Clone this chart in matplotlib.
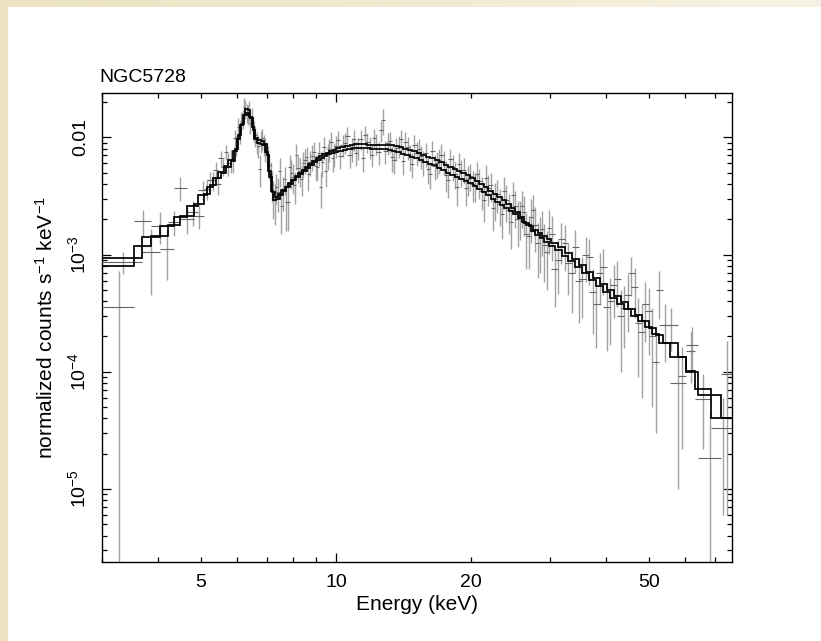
import numpy as np
import matplotlib
matplotlib.use("Agg")
import matplotlib.pyplot as plt
from matplotlib.patches import Rectangle
from matplotlib.colors import LinearSegmentedColormap
from matplotlib.ticker import FixedLocator, FixedFormatter, NullFormatter


plt.rcParams["font.family"] = "Liberation Sans"
plt.rcParams["mathtext.fontset"] = "custom"
plt.rcParams["mathtext.rm"] = "Liberation Sans"
plt.rcParams["mathtext.it"] = "Liberation Sans:italic"
plt.rcParams["mathtext.bf"] = "Liberation Sans:bold"

# FPMA: bin edges (keV), data / error / model in units of 1e-3 counts s^-1 keV^-1
edges_a = [
    3.00, 3.69, 4.04, 4.35, 4.64, 4.93, 5.16, 5.32, 5.46, 5.61,
    5.75, 5.88, 6.00, 6.10, 6.20, 6.28, 6.36, 6.44, 6.52, 6.60,
    6.70, 6.80, 6.90, 7.00, 7.10, 7.20, 7.30, 7.42, 7.55, 7.68,
    7.81, 7.95, 8.09, 8.23, 8.38, 8.53, 8.68, 8.84, 9.00, 9.16,
    9.32, 9.49, 9.66, 9.83, 10.0, 10.23, 10.47, 10.72, 10.96, 11.22,
    11.48, 11.75, 12.02, 12.30, 12.59, 12.88, 13.18, 13.49, 13.80, 14.13,
    14.45, 14.79, 15.14, 15.49, 15.85, 16.22, 16.60, 16.98, 17.38, 17.78,
    18.20, 18.62, 19.05, 19.50, 19.95, 20.42, 20.89, 21.38, 21.88, 22.39,
    22.91, 23.44, 23.99, 24.55, 25.12, 25.70, 26.30, 26.92, 27.54, 28.18,
    28.84, 29.51, 30.20, 31.3, 32.4, 33.6, 34.8, 36.1, 37.4, 38.8,
    40.2, 41.7, 43.2, 44.8, 46.4, 48.1, 49.9, 51.7, 53.7, 58.0,
    60.5, 63.2, 68.8, 77.0,
]
flux_a = [
    0.87, 1.05, 1.11, 3.70, 2.30, 3.55, 4.30, 5.30, 6.60, 7.50,
    6.40, 9.80, 12.3, 13.9, 18.3, 16.3, 17.0, 15.0, 11.5, 9.10,
    5.40, 9.80, 8.00, 6.80, 4.90, 3.10, 3.80, 5.20, 3.45, 2.80,
    5.60, 4.60, 7.00, 5.20, 6.00, 6.80, 6.20, 7.50, 5.60, 3.80,
    8.20, 7.00, 9.20, 7.30, 9.50, 8.60, 10.2, 8.00, 7.40, 9.70,
    10.5, 8.30, 9.80, 7.50, 14.0, 9.00, 6.80, 8.10, 9.60, 9.20,
    6.90, 8.60, 7.90, 6.20, 5.40, 7.60, 6.00, 7.00, 4.80, 6.50,
    4.90, 5.90, 5.30, 4.40, 4.00, 4.90, 3.50, 4.50, 3.90, 3.00,
    2.70, 3.50, 2.40, 3.20, 2.00, 2.60, 1.50, 2.10, 1.80, 1.40,
    1.20, 1.70, 0.76, 1.35, 0.85, 1.15, 0.62, 0.95, 0.38, 0.78,
    0.40, 0.62, 0.35, 0.70, 0.26, 0.38, 0.20, 0.50, 0.25, 0.092,
    0.15, 0.059, 0.033,
]
err_a = [
    0.19, 0.60, 0.50, 0.85, 0.55, 0.65, 0.80, 0.90, 1.00, 1.10,
    1.40, 1.80, 2.20, 2.60, 3.30, 3.10, 3.20, 2.80, 2.30, 1.90,
    1.60, 2.00, 1.80, 1.60, 1.30, 1.10, 1.10, 1.40, 1.10, 1.20,
    1.40, 1.30, 1.70, 1.40, 1.50, 1.50, 1.50, 1.70, 1.40, 1.30,
    1.80, 1.70, 1.90, 1.70, 1.90, 1.80, 2.10, 1.80, 1.70, 1.90,
    2.10, 1.80, 1.90, 1.70, 3.50, 1.90, 1.70, 1.80, 1.90, 1.90,
    1.70, 1.80, 1.70, 1.50, 1.40, 1.70, 1.50, 1.70, 1.40, 1.50,
    1.25, 1.40, 1.30, 1.25, 1.20, 1.30, 1.10, 1.25, 1.10, 1.05,
    0.95, 1.05, 0.90, 0.95, 0.85, 0.90, 0.75, 0.85, 0.75, 0.70,
    0.62, 0.68, 0.40, 0.52, 0.40, 0.46, 0.33, 0.40, 0.22, 0.33,
    0.23, 0.26, 0.19, 0.26, 0.17, 0.20, 0.15, 0.22, 0.10, 0.07,
    0.07, 0.037, 0.027,
]
model_a = [
    0.93, 1.42, 1.75, 2.10, 2.60, 3.25, 3.80, 4.50, 5.10, 5.70,
    6.40, 7.60, 9.60, 12.8, 15.5, 17.4, 17.0, 14.5, 11.5, 9.80,
    9.40, 9.30, 8.80, 7.00, 4.60, 3.40, 3.10, 3.30, 3.55, 3.80,
    4.05, 4.35, 4.65, 4.95, 5.25, 5.60, 5.95, 6.30, 6.60, 6.90,
    7.15, 7.40, 7.65, 7.85, 8.10, 8.30, 8.50, 8.65, 8.75, 8.80,
    8.75, 8.65, 8.60, 8.60, 8.65, 8.65, 8.55, 8.40, 8.20, 8.00,
    7.80, 7.60, 7.35, 7.10, 6.85, 6.60, 6.35, 6.10, 5.85, 5.60,
    5.35, 5.15, 4.95, 4.75, 4.50, 4.25, 4.00, 3.75, 3.50, 3.30,
    3.10, 2.90, 2.70, 2.50, 2.30, 2.10, 1.85, 1.75, 1.62, 1.52,
    1.43, 1.35, 1.26, 1.15, 1.03, 0.92, 0.81, 0.71, 0.63, 0.56,
    0.495, 0.44, 0.39, 0.345, 0.305, 0.27, 0.235, 0.205, 0.175, 0.134,
    0.102, 0.071, 0.040,
]

# FPMB
edges_b = [
    3.00, 3.55, 3.87, 4.21, 4.49, 4.81, 5.08, 5.24, 5.39, 5.53,
    5.68, 5.82, 5.94, 6.05, 6.15, 6.24, 6.32, 6.40, 6.48, 6.56,
    6.65, 6.75, 6.85, 6.95, 7.05, 7.15, 7.25, 7.36, 7.48, 7.61,
    7.74, 7.88, 8.02, 8.16, 8.30, 8.45, 8.60, 8.76, 8.92, 9.08,
    9.24, 9.40, 9.57, 9.74, 9.91, 10.10, 10.35, 10.60, 10.84, 11.09,
    11.35, 11.61, 11.88, 12.16, 12.44, 12.73, 13.03, 13.33, 13.64, 13.96,
    14.29, 14.62, 14.96, 15.31, 15.67, 16.03, 16.41, 16.79, 17.18, 17.58,
    17.99, 18.41, 18.84, 19.27, 19.72, 20.18, 20.65, 21.13, 21.63, 22.13,
    22.65, 23.17, 23.71, 24.27, 24.83, 25.41, 26.00, 26.61, 27.23, 27.86,
    28.51, 29.17, 29.85, 30.8, 31.9, 33.0, 34.2, 35.4, 36.7, 38.1,
    39.5, 40.9, 42.4, 44.0, 45.6, 47.2, 49.0, 50.8, 52.7, 55.5,
    60.5, 64.3, 72.4, 77.0,
]
flux_b = [
    0.36, 1.93, 1.76, 1.90, 2.00, 2.15, 3.60, 4.30, 4.00, 5.60,
    6.00, 6.40, 8.60, 10.8, 14.5, 17.6, 15.8, 13.2, 12.6, 10.4,
    8.40, 9.40, 8.70, 7.30, 5.80, 4.00, 2.90, 3.40, 2.60, 4.40,
    2.80, 5.00, 3.90, 5.50, 4.40, 6.40, 4.90, 6.90, 5.70, 7.40,
    6.10, 5.20, 7.90, 6.60, 8.50, 6.90, 9.00, 7.00, 9.60, 8.10,
    6.60, 9.10, 7.10, 8.80, 11.5, 7.60, 9.30, 6.40, 8.40, 6.30,
    8.20, 5.90, 7.40, 6.90, 7.30, 4.90, 5.70, 6.40, 6.20, 4.30,
    5.60, 3.80, 5.10, 3.70, 4.70, 3.90, 4.20, 2.90, 3.70, 2.50,
    3.30, 2.20, 2.90, 1.90, 2.60, 2.10, 2.30, 1.45, 2.40, 1.25,
    1.65, 1.05, 1.50, 0.90, 1.25, 0.70, 0.60, 1.00, 0.48, 0.70,
    0.36, 0.55, 0.30, 0.45, 0.53, 0.22, 0.33, 0.12, 0.25, 0.080,
    0.17, 0.0183, 0.095,
]
err_b = [
    0.359, 0.49, 0.53, 0.45, 0.50, 0.50, 0.70, 0.80, 0.80, 0.90,
    1.30, 1.40, 1.70, 2.10, 2.70, 3.20, 3.00, 2.60, 2.50, 2.10,
    1.80, 2.00, 1.80, 1.70, 1.40, 1.20, 1.10, 1.10, 1.10, 1.20,
    1.20, 1.40, 1.20, 1.40, 1.25, 1.50, 1.40, 1.70, 1.40, 1.70,
    1.50, 1.40, 1.80, 1.50, 1.80, 1.50, 1.80, 1.50, 1.90, 1.70,
    1.50, 1.80, 1.50, 1.80, 2.30, 1.70, 1.90, 1.50, 1.80, 1.50,
    1.80, 1.40, 1.70, 1.50, 1.70, 1.30, 1.40, 1.50, 1.45, 1.25,
    1.40, 1.20, 1.30, 1.10, 1.25, 1.10, 1.20, 1.00, 1.10, 0.90,
    1.05, 0.85, 1.00, 0.78, 0.90, 0.78, 0.85, 0.70, 0.85, 0.62,
    0.68, 0.55, 0.62, 0.44, 0.52, 0.38, 0.34, 0.42, 0.27, 0.33,
    0.21, 0.26, 0.20, 0.23, 0.24, 0.16, 0.19, 0.09, 0.13, 0.07,
    0.07, 0.025, 0.089,
]
model_b = [
    0.80, 1.19, 1.45, 1.80, 2.15, 2.70, 3.30, 3.90, 4.50, 5.00,
    5.60, 6.30, 8.00, 10.5, 13.0, 15.5, 16.2, 15.0, 12.2, 9.60,
    8.90, 8.80, 8.60, 7.50, 5.20, 3.50, 2.90, 3.00, 3.25, 3.50,
    3.75, 4.00, 4.30, 4.60, 4.90, 5.20, 5.50, 5.85, 6.15, 6.45,
    6.70, 6.95, 7.15, 7.35, 7.50, 7.70, 7.85, 8.00, 8.10, 8.15,
    8.15, 8.10, 8.00, 7.95, 7.95, 7.95, 7.85, 7.70, 7.45, 7.25,
    7.05, 6.85, 6.60, 6.40, 6.20, 5.95, 5.75, 5.50, 5.25, 5.00,
    4.80, 4.60, 4.40, 4.25, 4.05, 3.85, 3.60, 3.40, 3.20, 3.00,
    2.80, 2.65, 2.50, 2.35, 2.20, 2.05, 1.90, 1.78, 1.60, 1.48,
    1.38, 1.29, 1.19, 1.09, 0.98, 0.88, 0.78, 0.69, 0.61, 0.54,
    0.48, 0.425, 0.38, 0.34, 0.30, 0.27, 0.24, 0.21, 0.175, 0.134,
    0.100, 0.063, 0.040,
]

y_ticks = [1e-5, 1e-4, 1e-3, 1e-2]
y_tick_labels = ["$10^{-5}$", "$10^{-4}$", "$10^{-3}$", "0.01"]
x_minor = [3, 4, 5, 6, 7, 8, 9, 20, 30, 40, 50, 60, 70]
x_labelled = [5, 20, 50]


fig = plt.figure(figsize=(8.21, 6.41), dpi=100)
fig.patch.set_facecolor("white")

# beige page border: fading strip along the top, plain strip on the left
band = fig.add_axes([0, 1 - 7 / 641, 1, 7 / 641])
band.imshow(np.linspace(0, 1, 200).reshape(1, -1), aspect="auto",
            cmap=LinearSegmentedColormap.from_list("cream", ["#ede3c2", "#f7f2e3"]))
band.set_axis_off()
fig.add_artist(Rectangle((0, 0), 7 / 821, 1, transform=fig.transFigure,
                         color="#ede3c2", zorder=0))

ax = fig.add_axes([101.7 / 821, 79.3 / 641, 630.3 / 821, 469.0 / 641])


def draw_data(edges, flux, err):
    lo = np.array(edges[:-1])
    hi = np.array(edges[1:])
    mid = (lo + hi) / 2
    f = np.array(flux) * 1e-3
    e = np.array(err) * 1e-3
    bottom = np.maximum(f - e, 1e-9)
    ax.vlines(mid, bottom, f + e, color="#a2a2a2", lw=1.0, zorder=2)
    ax.hlines(f, lo, hi, color="#666666", lw=0.8, zorder=3)


draw_data(edges_a, flux_a, err_a)
draw_data(edges_b, flux_b, err_b)

ax.stairs(np.array(model_a) * 1e-3, edges_a, baseline=None, color="black", lw=1.25, zorder=4)
ax.stairs(np.array(model_b) * 1e-3, edges_b, baseline=None, color="black", lw=1.25, zorder=4)

ax.set_xscale("log")
ax.set_yscale("log")
ax.set_xlim(3.0, 76.5)
ax.set_ylim(2.4e-6, 0.024)

ax.xaxis.set_major_locator(FixedLocator([10]))
ax.xaxis.set_major_formatter(FixedFormatter(["10"]))
ax.xaxis.set_minor_locator(FixedLocator(x_minor))
ax.xaxis.set_minor_formatter(FixedFormatter(
    [str(v) if v in x_labelled else "" for v in x_minor]))

ax.yaxis.set_major_locator(FixedLocator(y_ticks))
ax.yaxis.set_major_formatter(FixedFormatter(y_tick_labels))
minor_y = [m * 10.0 ** d for d in range(-6, -1) for m in range(2, 10)]
ax.yaxis.set_minor_locator(FixedLocator(minor_y))
ax.yaxis.set_minor_formatter(NullFormatter())

ax.tick_params(which="both", direction="in", top=True, right=True,
               width=0.9, colors="black", labelsize=14)
ax.tick_params(which="major", length=6.5)
ax.tick_params(which="minor", length=3.6)
ax.tick_params(axis="x", which="both", pad=9)
ax.tick_params(axis="y", which="both", pad=9, labelrotation=90)
for lab in ax.get_yticklabels():
    lab.set_verticalalignment("center")

for s in ax.spines.values():
    s.set_linewidth(1.0)
    s.set_color("black")

ax.set_xlabel("Energy (keV)", fontsize=15, labelpad=3)
ax.set_ylabel("normalized counts s$^{-1}$ keV$^{-1}$", fontsize=15)
ax.yaxis.set_label_coords(-0.071, 0.5)
ax.set_title("NGC5728", loc="left", fontsize=14, pad=8, x=-0.003)

fig.savefig("out.png", dpi=100, facecolor=fig.get_facecolor())
